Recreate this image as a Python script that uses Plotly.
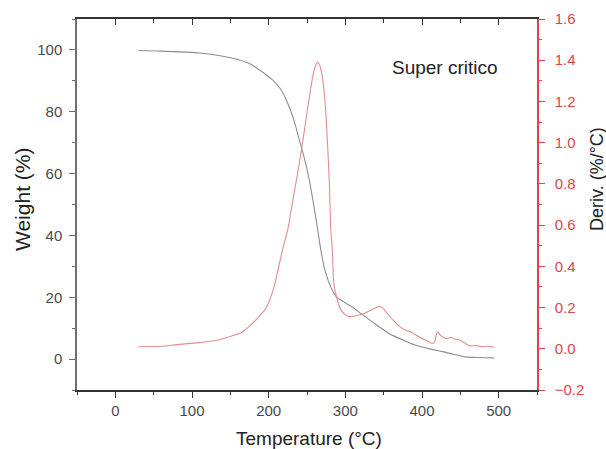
import plotly.graph_objects as go

# Weight (%) curve
temp_w = [30, 60, 110, 153, 175, 188, 205, 215, 223, 232, 240, 247, 253, 259, 264, 268, 273, 279, 284, 288,
          300, 312, 323, 340, 357, 375, 392, 410, 427, 442, 457, 475, 494]
weight = [99.8, 99.6, 99.0, 97.3, 95.6, 93.5, 90.3, 87.5, 83.8, 78.0, 70.9, 64.5, 58.0, 49.5, 41.7, 35.3, 29.0, 24.5,
          21.8, 20.2, 18.2, 16.3, 14.2, 11.2, 8.3, 6.2, 4.5, 3.3, 2.4, 1.5, 0.7, 0.5, 0.4]

# Derivative (%/°C) curve
temp_d = [30, 60, 80, 109, 130, 150, 165, 175, 186, 197, 207, 218, 225, 232, 240, 247, 253, 258, 262, 264, 266,
          270, 273, 276, 279, 281, 283, 285, 288.6, 294, 300, 305, 314, 323, 332, 340, 345, 349, 355, 362,
          370, 379, 386, 392, 400, 406, 412, 416, 420, 424, 431, 438, 444, 449, 455, 462, 470, 479, 486, 494]
deriv = [0.01, 0.012, 0.02, 0.03, 0.04, 0.06, 0.08, 0.11, 0.15, 0.2, 0.3, 0.48, 0.58, 0.73, 0.9, 1.07, 1.22, 1.33, 1.38, 1.39, 1.38,
         1.32, 1.22, 1.05, 0.82, 0.58, 0.48, 0.32, 0.25, 0.19, 0.165, 0.156, 0.16, 0.17, 0.185, 0.2, 0.205, 0.197, 0.17, 0.14,
         0.11, 0.09, 0.08, 0.067, 0.05, 0.04, 0.027, 0.03, 0.083, 0.065, 0.05, 0.055, 0.045, 0.043, 0.03, 0.014, 0.016, 0.01, 0.012, 0.007]

x_ticks = [0, 100, 200, 300, 400, 500]
y_ticks = [0, 20, 40, 60, 80, 100]
y2_ticks = [-0.2, 0.0, 0.2, 0.4, 0.6, 0.8, 1.0, 1.2, 1.4, 1.6]

RED = "#e0454b"
GRAY_AX = "#6e6e6e"
FONT = "Liberation Sans, Arial, sans-serif"

L, R, T, B = 77, 537, 19, 390


def px(x):
    return (x - L) / (R - L)


def py(y):
    return 1 - (y - T) / (B - T)


fig = go.Figure()
fig.add_trace(go.Scatter(x=temp_w, y=weight, mode="lines", line=dict(color="#8c8c98", width=1.1, shape="spline", smoothing=0.8),
                         xaxis="x", yaxis="y", showlegend=False))
fig.add_trace(go.Scatter(x=temp_d, y=deriv, mode="lines", line=dict(color="#e58c8c", width=1.1, shape="spline", smoothing=0.6),
                         xaxis="x", yaxis="y2", showlegend=False))
# invisible trace to host the mirrored top axis
fig.add_trace(go.Scatter(x=temp_w, y=weight, mode="lines", opacity=0, line=dict(width=0),
                         xaxis="x2", yaxis="y", showlegend=False, hoverinfo="skip"))

fig.update_layout(
    width=606, height=449,
    margin=dict(l=L, r=606 - R, t=T, b=449 - B),
    paper_bgcolor="white", plot_bgcolor="white",
    font=dict(family=FONT, size=15, color="#4a4a4a"),
    xaxis=dict(range=[-50, 550], tickvals=x_ticks, ticks="outside", ticklen=6, tickwidth=1.3, automargin=False,
               tickcolor="#333", showline=True, linecolor="#333", linewidth=1.5, showgrid=False, zeroline=False,
               minor=dict(dtick=50, tick0=0, ticks="outside", ticklen=3.5, tickwidth=1.3, tickcolor="#333"),
               tickfont=dict(size=15, color="#4a4a4a")),
    xaxis2=dict(range=[-50, 550], overlaying="x", side="top", tickvals=x_ticks, ticks="inside", ticklen=6,
                tickwidth=1.3, tickcolor="#333", showline=True, linecolor="#333", linewidth=1.5, automargin=False,
                showticklabels=False, showgrid=False, zeroline=False,
                minor=dict(dtick=50, tick0=0, ticks="inside", ticklen=4, tickwidth=1.3, tickcolor="#333")),
    yaxis=dict(range=[-10, 110], tickvals=y_ticks, ticks="outside", ticklen=6, tickwidth=1.3, automargin=False,
               tickcolor=GRAY_AX, showline=True, linecolor=GRAY_AX, linewidth=1.5, showgrid=False, zeroline=False,
               minor=dict(dtick=10, tick0=0, ticks="outside", ticklen=3.5, tickwidth=1.3, tickcolor=GRAY_AX),
               tickfont=dict(size=15, color="#4a4a4a"), ticklabelstandoff=4),
    yaxis2=dict(range=[-0.2, 1.6], overlaying="y", side="right", tickvals=y2_ticks, tickformat=".1f",
                ticks="outside", ticklen=6, tickwidth=1.3, tickcolor=RED, showline=True, linecolor=RED,
                linewidth=1.5, showgrid=False, zeroline=False, automargin=False,
                minor=dict(dtick=0.1, tick0=0, ticks="outside", ticklen=3.5, tickwidth=1.3, tickcolor=RED),
                tickfont=dict(size=15, color=RED), ticklabelstandoff=7),
    annotations=[
        dict(text="Super critico", xref="paper", yref="paper", x=px(445), y=py(67),
             xanchor="center", yanchor="middle", showarrow=False, font=dict(size=19, color="#222")),
        dict(text="Temperature (°C)", xref="paper", yref="paper", x=px(309), y=py(438),
             xanchor="center", yanchor="middle", showarrow=False, font=dict(size=19, color="#222")),
        dict(text="Weight (%)", xref="paper", yref="paper", x=px(23), y=py(200), textangle=-90,
             xanchor="center", yanchor="middle", showarrow=False, font=dict(size=21, color="#222")),
        dict(text="Deriv. (%/°C)", xref="paper", yref="paper", x=px(597), y=py(179), textangle=-90,
             xanchor="center", yanchor="middle", showarrow=False, font=dict(size=18, color="#222")),
    ],
)

fig.write_html("out.html")
